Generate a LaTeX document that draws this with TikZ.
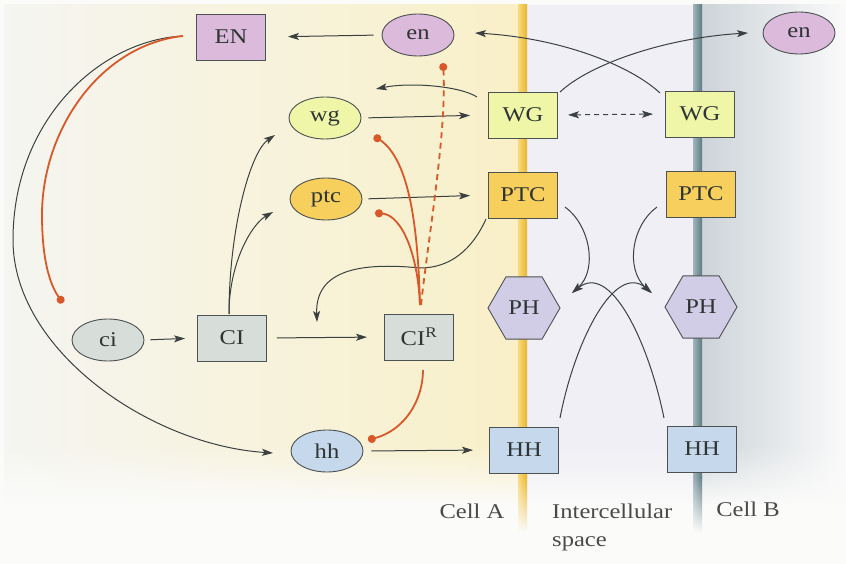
\documentclass[tikz,border=0pt]{standalone}
\usepackage{fontspec}
\setmainfont{Liberation Serif}[FakeStretch=1.17]
\usetikzlibrary{arrows.meta,shapes.geometric,fadings}

\definecolor{bgc}{HTML}{FBFBFA}
\definecolor{cellAl}{HTML}{F5F5F1}
\definecolor{cellAr}{HTML}{F9F0C8}
\definecolor{gapc}{HTML}{EFEFF5}
\definecolor{cellBl}{HTML}{CDD4D9}
\definecolor{cellBr}{HTML}{FAFAFA}
\definecolor{memAl}{HTML}{F8DA7E}
\definecolor{memAr}{HTML}{EDB52A}
\definecolor{memBl}{HTML}{A2B5BA}
\definecolor{memBr}{HTML}{5D7B83}
\definecolor{enc}{HTML}{DBBADB}
\definecolor{wgc}{HTML}{EFF6A8}
\definecolor{ptcc}{HTML}{F6CF5C}
\definecolor{phc}{HTML}{D1CDE7}
\definecolor{hhc}{HTML}{C6D8EC}
\definecolor{cic}{HTML}{D7DDD8}
\definecolor{edgec}{HTML}{4C5152}
\definecolor{txtc}{HTML}{2E3434}
\definecolor{linec}{HTML}{3B4141}
\definecolor{inhc}{HTML}{D8582A}
\definecolor{labc}{HTML}{4A4A4A}

\tikzfading[name=vanish, top color=transparent!0, bottom color=transparent!100]
\tikzfading[name=appear, top color=transparent!100, bottom color=transparent!0]

\begin{document}
\begin{tikzpicture}[x=1pt, y=-1pt, font=\fontsize{21}{28}\selectfont,
  box/.style={rectangle, draw=edgec, line width=0.9pt, minimum width=69pt,
    minimum height=46pt, inner sep=0pt, text=txtc},
  oval/.style={ellipse, draw=edgec, line width=0.9pt, minimum width=72pt,
    minimum height=42pt, inner sep=0pt, text=txtc},
  hexa/.style={regular polygon, regular polygon sides=6, draw=edgec,
    line width=0.9pt, minimum size=72pt, inner sep=0pt, text=txtc},
  arr/.style={draw=linec, line width=1pt,
    -{Stealth[length=11pt, width=7pt, inset=2.5pt]}},
  inh/.style={draw=inhc, line width=1.8pt, -{Circle[length=8pt]}},
  celltext/.style={text=labc, inner sep=0pt}]

% canvas and the three compartments
\useasboundingbox (0,0) rectangle (846,564);
\fill[bgc] (0,0) rectangle (846,564);
\shade[left color=cellAl, right color=cellAr] (4,5) rectangle (518,540);
\fill[gapc] (527,5) rectangle (693,540);
\shade[left color=cellBl, right color=cellBr] (702,5) rectangle (846,540);
% everything fades out towards the bottom
\fill[bgc, path fading=appear] (0,445) rectangle (846,505);
\fill[bgc] (0,504) rectangle (846,564);

% membranes
\shade[left color=memAl, right color=memAr] (518,5) rectangle (527,478);
\shade[left color=memAl, right color=memAr, path fading=vanish] (518,477) rectangle (527,532);
\shade[left color=memBl, right color=memBr] (693,5) rectangle (702,478);
\shade[left color=memBl, right color=memBr, path fading=vanish] (693,477) rectangle (702,532);

% genes and proteins
\node[box,  fill=enc]  (EN)   at (231,37)  {EN};
\node[oval, fill=enc]  (enA)  at (418,35)  {en};
\node[oval, fill=enc]  (enB)  at (799,33)  {en};
\node[oval, fill=wgc]  (wg)   at (325,118) {wg};
\node[oval, fill=ptcc] (ptc)  at (326,199) {ptc};
\node[box,  fill=wgc]  (WGa)  at (523,115) {WG};
\node[box,  fill=wgc]  (WGb)  at (700,114) {WG};
\node[box,  fill=ptcc] (PTCa) at (523,195) {PTC};
\node[box,  fill=ptcc] (PTCb) at (701,194) {PTC};
\node[hexa, fill=phc]  (PHa)  at (524,308) {PH};
\node[hexa, fill=phc]  (PHb)  at (701,307) {PH};
\node[box,  fill=hhc]  (HHa)  at (524,450) {HH};
\node[box,  fill=hhc]  (HHb)  at (702,449) {HH};
\node[oval, fill=cic]  (ci)   at (108,340) {ci};
\node[box,  fill=cic]  (CI)   at (232,338) {CI};
\node[box,  fill=cic]  (CIR)  at (419,337) {CI\textsuperscript{R}};
\node[oval, fill=hhc]  (hh)   at (327,451) {hh};

% compartment labels
\node[celltext, anchor=base] (labA) at (472,518) {Cell A};
\node[celltext, anchor=north west, align=left] (labS) at (552,503.5) {Intercellular\\space};
\node[celltext, anchor=base] (labB) at (748,516) {Cell B};

% straight activations
\draw[arr, shorten <=8pt, shorten >=22pt] (enA.west) -- (EN.east);
\draw[arr, shorten <=7pt, shorten >=18pt] (wg.east) -- (WGa.west);
\draw[arr, shorten <=6pt, shorten >=18pt] (ptc.east) -- (PTCa.west);
\draw[arr, shorten <=6pt, shorten >=12pt] (ci.east) -- (CI.west);
\draw[arr, shorten <=10pt, shorten >=17pt] (CI.east) -- (CIR.west);
\draw[arr, shorten <=8pt, shorten >=16pt] (hh.east) -- (HHa.west);
\draw[draw=linec, line width=1pt, dash pattern=on 5pt off 4pt,
  {Stealth[length=11pt, width=7pt, inset=2.5pt]}-{Stealth[length=11pt, width=7pt, inset=2.5pt]},
  shorten <=10pt, shorten >=12pt] (WGa.east) -- (WGb.west);

% curved activations
\draw[arr] ([shift={(-46,-18)}]WGa.center) .. controls +(-17,-11) and +(34,-7)
  .. ([shift={(51,-29)}]wg.center);
\draw[arr] ([shift={(-40,-21)}]WGb.center) .. controls +(-30,-28) and +(85,5)
  .. ([shift={(57,-2)}]enA.center);
\draw[arr] ([shift={(37,-23)}]WGa.center) .. controls +(30,-28) and +(-83,5)
  .. ([shift={(-51,0)}]enB.center);
\draw[arr] ([shift={(-3,-24)}]CI.center) .. controls +(0,-84) and +(-25,17)
  .. ([shift={(-50,17)}]wg.center);
\draw[arr] ([shift={(-3,-24)}]CI.center) .. controls +(0,-52) and +(-21,12)
  .. ([shift={(-53,13)}]ptc.center);
\draw[arr] ([shift={(-37,24)}]PTCa.center) .. controls +(-14,31) and +(30,0)
  .. ([shift={(-103,73)}]PTCa.center) .. controls +(-60,-6) and +(-2,-52)
  .. ([shift={(85,-16)}]CI.center);
\draw[arr] ([shift={(-48,-1)}]EN.center) .. controls +(-83,4) and +(0,-120)
  .. ([shift={(-218,203)}]EN.center) .. controls +(0,110) and +(-123,-8)
  .. ([shift={(-54,2)}]hh.center);
\draw[arr] ([shift={(42,12)}]PTCa.center) .. controls +(25,18) and +(26,-23)
  .. ([shift={(48,-15)}]PHa.center);
\draw[arr] ([shift={(-44,13)}]PTCb.center) .. controls +(-25,18) and +(-26,-25)
  .. ([shift={(-50,-14)}]PHb.center);
\draw[arr] ([shift={(36,-32)}]HHa.center) .. controls +(15,-78) and +(-37,-31)
  .. ([shift={(-49,-14)}]PHb.center);
\draw[arr] ([shift={(-38,-31)}]HHb.center) .. controls +(-16,-78) and +(38,-31)
  .. ([shift={(48,-15)}]PHa.center);

% repressions
\draw[inh] ([shift={(-48,-1)}]EN.center) .. controls +(-83,9) and +(0,-85)
  .. ([shift={(-189,178)}]EN.center) .. controls +(0,45) and +(-13,-18)
  .. ([shift={(-45,-37)}]ci.center);
\draw[inh] ([shift={(1,-32)}]CIR.center) .. controls +(-2,-75) and +(36,24)
  .. ([shift={(49,18)}]wg.center);
\draw[inh] ([shift={(1,-32)}]CIR.center) .. controls +(-2,-50) and +(27,2)
  .. ([shift={(49,14)}]ptc.center);
\draw[inh, dash pattern=on 6pt off 4.5pt] ([shift={(2,-32)}]CIR.center)
  .. controls +(7,-65) and +(4,67) .. ([shift={(25,28)}]enA.center);
\draw[inh] ([shift={(4,33)}]CIR.center) .. controls +(0,30) and +(37,-10)
  .. ([shift={(41,-11)}]hh.center);
\end{tikzpicture}
\end{document}
